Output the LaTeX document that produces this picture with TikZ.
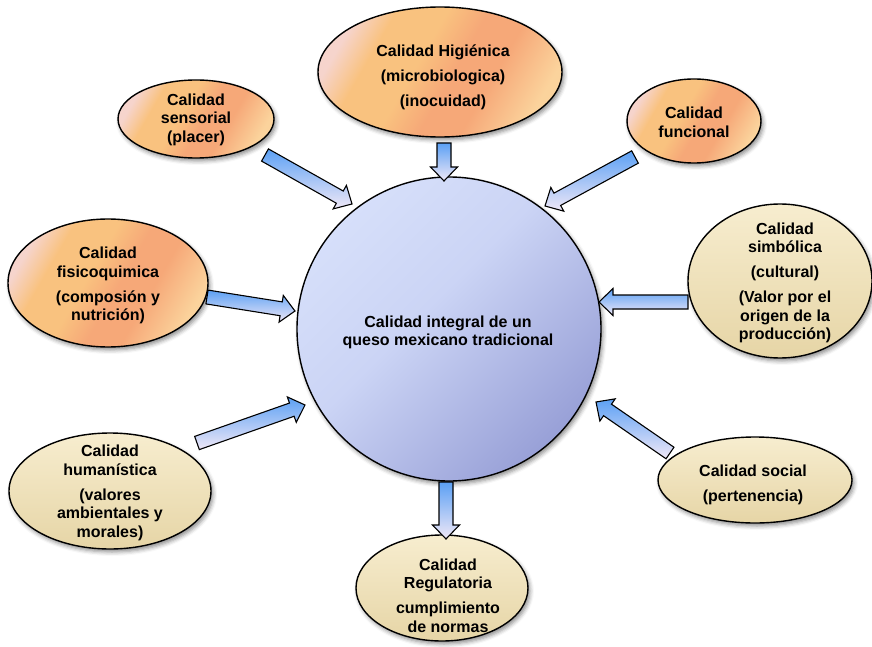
\documentclass[tikz,border=0pt]{standalone}
\usepackage{fontspec}
\setmainfont{Liberation Sans}
\usetikzlibrary{calc,shapes.geometric,shadows.blur}

\definecolor{pinkL}{HTML}{F6D4CC}
\definecolor{orY}{HTML}{F9C27F}
\definecolor{salm}{HTML}{F6A878}
\definecolor{orLt}{HTML}{FBD39C}
\definecolor{creamT}{HTML}{F7EDCF}
\definecolor{creamM}{HTML}{F2E4BE}
\definecolor{creamB}{HTML}{E6D5A6}
\definecolor{discL}{HTML}{D6DFFA}
\definecolor{discM}{HTML}{CBD4F5}
\definecolor{discD}{HTML}{98A0D7}
\definecolor{arBlue}{HTML}{5BA0F4}
\definecolor{arLav}{HTML}{F0E8F7}

\pgfdeclarehorizontalshading{orshade}{100bp}{color(0bp)=(pinkL); color(25bp)=(pinkL); color(33bp)=(orY); color(44bp)=(orY); color(53bp)=(salm); color(62bp)=(salm); color(75bp)=(orLt); color(100bp)=(orLt)}
\pgfdeclarehorizontalshading{discshade}{100bp}{color(0bp)=(discL); color(25bp)=(discL); color(45bp)=(discM); color(75bp)=(discD); color(100bp)=(discD)}

\tikzset{
  softshadow/.style={blur shadow={shadow xshift=2pt, shadow yshift=-3pt, shadow blur radius=4pt, shadow opacity=45}},
  bubble/.style={ellipse, draw=black, line width=1.4pt, inner sep=0pt, softshadow},
  warm/.style={bubble, shading=orshade, shading angle=-30},
  pale/.style={bubble, top color=creamT, middle color=creamM, bottom color=creamB},
  disc/.style={circle, draw=black, line width=1.4pt, inner sep=0pt, softshadow, shading=discshade, shading angle=-45},
  caption/.style={align=center, inner sep=0pt, font=\bfseries\fontsize{16}{18.5}\selectfont},
  fatarr/.style={draw=black, line width=1.1pt, line join=miter, top color=arBlue, bottom color=arLav},
}

% block arrow from #1 (tail) to #2 (tip)
\newcommand\fatarrow[2]{%
  \coordinate (fa-neck) at ($(#2)!14pt!(#1)$);
  \path[fatarr] ($(#1)!7pt!90:(#2)$) -- ($(fa-neck)!7pt!90:(#2)$)
    -- ($(fa-neck)!13.5pt!90:(#2)$) -- (#2)
    -- ($(fa-neck)!13.5pt!-90:(#2)$) -- ($(fa-neck)!7pt!-90:(#2)$)
    -- ($(#1)!7pt!-90:(#2)$) -- cycle;}

\begin{document}
\begin{tikzpicture}[x=1pt, y=-1pt]
\useasboundingbox (0,0) rectangle (872,647);

% bubbles
\node[disc, minimum size=304pt] (core) at (449,329) {};
\node[warm, minimum width=244pt, minimum height=130pt] (hig) at (440,72) {};
\node[warm, minimum width=156pt, minimum height=78pt] (sens) at (196,119) {};
\node[warm, minimum width=134pt, minimum height=84pt] (func) at (694,121) {};
\node[warm, minimum width=200pt, minimum height=128pt] (fis) at (108,283) {};
\node[pale, minimum width=184pt, minimum height=154pt] (simb) at (780,281) {};
\node[pale, minimum width=202pt, minimum height=116pt] (hum) at (110,491) {};
\node[pale, minimum width=194pt, minimum height=86pt] (soc) at (755,480) {};
\node[pale, minimum width=172pt, minimum height=106pt] (reg) at (442,588) {};

% captions
\node[caption] (coreT) at (448,332.5) {Calidad integral de un\\queso mexicano tradicional};
\node[caption] (higT) at (443,77) {Calidad Higiénica\\[6.5pt](microbiologica)\\[6.5pt](inocuidad)};
\node[caption] (sensT) at (196,119.5) {Calidad\\sensorial\\(placer)};
\node[caption] (funcT) at (694,122.5) {Calidad\\funcional};
\node[caption] (fisT) at (108,285.5) {Calidad\\fisicoquimica\\[6.5pt](composión y\\nutrición)};
\node[caption] (simbT) at (785,283) {Calidad\\simbólica\\[6.5pt](cultural)\\[6.5pt](Valor por el\\origen de la\\producción)};
\node[caption] (humT) at (110,493) {Calidad\\humanística\\[6.5pt](valores\\ambientales y\\morales)};
\node[caption] (socT) at (753,485) {Calidad social\\[7pt](pertenencia)};
\node[caption] (regT) at (448,595.5) {Calidad\\Regulatoria\\[6.5pt]cumplimiento\\de normas};

% arrow ends
\coordinate (sensA) at (265,155);  \coordinate (sensB) at (352,204);
\coordinate (higA)  at (444,143);  \coordinate (higB)  at (444,181);
\coordinate (funcA) at (635,157);  \coordinate (funcB) at (545,206);
\coordinate (fisA)  at (207,297);  \coordinate (fisB)  at (295,311);
\coordinate (simbA) at (688,302);  \coordinate (simbB) at (599,302);
\coordinate (humA)  at (197,443);  \coordinate (humB)  at (305,405);
\coordinate (socA)  at (670,453);  \coordinate (socB)  at (596,402);
\coordinate (regA)  at (446,482);  \coordinate (regB)  at (446,539);

\fatarrow{sensA}{sensB}
\fatarrow{higA}{higB}
\fatarrow{funcA}{funcB}
\fatarrow{fisA}{fisB}
\fatarrow{simbA}{simbB}
\fatarrow{humA}{humB}
\fatarrow{socA}{socB}
\fatarrow{regA}{regB}
\end{tikzpicture}
\end{document}
